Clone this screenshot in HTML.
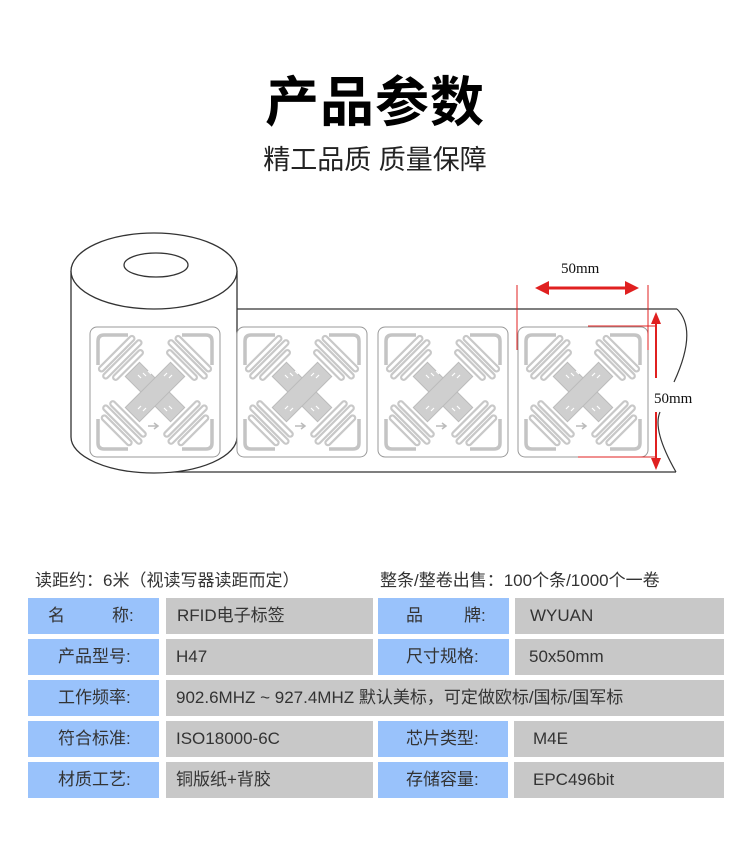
<!DOCTYPE html>
<html><head><meta charset="utf-8"><style>
body{margin:0;width:750px;height:847px;background:#fff;position:relative;overflow:hidden;font-family:"Liberation Sans","Noto Sans CJK SC",sans-serif;color:#333}
.t{position:absolute;white-space:nowrap}
.c{position:absolute;height:36px;line-height:36px;font-size:17px;color:#333;white-space:nowrap}
.b{background:#99c2fb}
.g{background:#c8c8c8}
</style></head><body>
<div class="t" style="left:0;width:750px;text-align:center;top:58px;font-size:54px;font-weight:bold;color:#000;letter-spacing:1px">产品参数</div>
<div class="t" style="left:0;width:750px;text-align:center;top:138px;font-size:27px;color:#222">精工品质 质量保障</div>

<svg width="750" height="847" style="position:absolute;left:0;top:0" xmlns="http://www.w3.org/2000/svg">
<defs>
<g id="lab">
<rect x="0" y="0" width="130" height="130" rx="7" fill="#fff" stroke="#999" stroke-width="1"/>
<g fill="none" stroke="#c4c4c4" stroke-width="3.5">
<path d="M8 38 V14 Q8 8 14 8 H38"/><path d="M92 8 H116 Q122 8 122 14 V38"/>
<path d="M122 92 V116 Q122 122 116 122 H92"/><path d="M38 122 H14 Q8 122 8 116 V92"/>
</g>
<g fill="none" stroke="#c8c8c8" stroke-width="2.2">
<g transform="translate(32,32) rotate(-45)"><rect x="-24" y="-10" width="48" height="5" rx="2.5"/><rect x="-26" y="-2" width="52" height="5" rx="2.5"/><rect x="-20" y="6" width="40" height="5" rx="2.5"/></g>
<g transform="translate(98,32) rotate(45)"><rect x="-24" y="-10" width="48" height="5" rx="2.5"/><rect x="-26" y="-2" width="52" height="5" rx="2.5"/><rect x="-20" y="6" width="40" height="5" rx="2.5"/></g>
<g transform="translate(32,98) rotate(45)"><rect x="-24" y="-11" width="48" height="5" rx="2.5"/><rect x="-26" y="-3" width="52" height="5" rx="2.5"/><rect x="-20" y="5" width="40" height="5" rx="2.5"/></g>
<g transform="translate(98,98) rotate(-45)"><rect x="-24" y="-11" width="48" height="5" rx="2.5"/><rect x="-26" y="-3" width="52" height="5" rx="2.5"/><rect x="-20" y="5" width="40" height="5" rx="2.5"/></g>
</g>
<g fill="#cfcfcf" stroke="#bbb" stroke-width="1">
<rect x="33" y="55" width="64" height="20" transform="rotate(45 65 65)"/>
<rect x="33" y="55" width="64" height="20" transform="rotate(-45 65 65)"/>
</g>
<g fill="none" stroke="#fff" stroke-width="1.2">
<path d="M48 48 l3 3 m2-5 l3 3 m2-5 l3 3 M82 48 l-3 3 m-2-5 l-3 3 M48 82 l3-3 m2 5 l3-3 M82 82 l-3-3 m-2 5 l-3-3"/>
</g>
<path d="M58 99 H67 M64 96 L68 99 L64 102" stroke="#bbb" stroke-width="1.5" fill="none"/>
</g>
</defs>
<line x1="160" y1="309" x2="677" y2="309" stroke="#333" stroke-width="1.2"/>
<line x1="160" y1="472" x2="676" y2="472" stroke="#333" stroke-width="1.2"/>
<path d="M677 309 Q698 330 674 382" stroke="#333" fill="none" stroke-width="1.2"/>
<path d="M660 412 Q652 430 676 472" stroke="#333" fill="none" stroke-width="1.2"/>
<path d="M71 271 V437 A83 36 0 0 0 237 437 V271" fill="#fff" stroke="#333" stroke-width="1.3"/>
<ellipse cx="154" cy="271" rx="83" ry="38" fill="#fff" stroke="#333" stroke-width="1.3"/>
<ellipse cx="156" cy="265" rx="32" ry="12" fill="#fff" stroke="#333" stroke-width="1.3"/>
<use href="#lab" x="90" y="327"/>
<use href="#lab" x="237" y="327"/>
<use href="#lab" x="378" y="327"/>
<use href="#lab" x="518" y="327"/>
<g stroke="#e02020" stroke-width="1">
<line x1="517" y1="285" x2="517" y2="350"/><line x1="648" y1="285" x2="648" y2="350"/>
<line x1="588" y1="326" x2="656" y2="326"/><line x1="578" y1="457" x2="656" y2="457"/>
</g>
<line x1="545" y1="288" x2="628" y2="288" stroke="#e02020" stroke-width="3"/>
<polygon points="535,288 549,281 549,295" fill="#e02020"/><polygon points="639,288 625,281 625,295" fill="#e02020"/>
<line x1="656" y1="320" x2="656" y2="378" stroke="#e02020" stroke-width="2"/>
<line x1="656" y1="412" x2="656" y2="462" stroke="#e02020" stroke-width="2"/>
<polygon points="656,312 651,324 661,324" fill="#e02020"/><polygon points="656,470 651,458 661,458" fill="#e02020"/>
<text x="561" y="273" font-family="Liberation Serif" font-size="15" fill="#111">50mm</text>
<text x="654" y="403" font-family="Liberation Serif" font-size="15" fill="#111">50mm</text>
</svg>

<div class="t" style="left:35px;top:566px;font-size:17px;color:#333">读距约：6米（视读写器读距而定）</div>
<div class="t" style="left:380px;top:566px;font-size:17px;color:#333">整条/整卷出售：100个条/1000个一卷</div>

<div class="c b" style="left:28px;top:598px;width:131px"><span style="position:absolute;left:20px">名</span><span style="position:absolute;left:84px">称:</span></div>
<div class="c g" style="left:166px;top:598px;width:207px;padding-left:11px;box-sizing:border-box">RFID电子标签</div>
<div class="c b" style="left:378px;top:598px;width:131px"><span style="position:absolute;left:28px">品</span><span style="position:absolute;left:86px">牌:</span></div>
<div class="c g" style="left:515px;top:598px;width:209px;padding-left:15px;box-sizing:border-box">WYUAN</div>

<div class="c b" style="left:28px;top:639px;width:131px;padding-left:30px;box-sizing:border-box">产品型号:</div>
<div class="c g" style="left:166px;top:639px;width:207px;padding-left:10px;box-sizing:border-box">H47</div>
<div class="c b" style="left:378px;top:639px;width:131px;padding-left:28px;box-sizing:border-box">尺寸规格:</div>
<div class="c g" style="left:515px;top:639px;width:209px;padding-left:14px;box-sizing:border-box">50x50mm</div>

<div class="c b" style="left:28px;top:680px;width:131px;padding-left:30px;box-sizing:border-box">工作频率:</div>
<div class="c g" style="left:166px;top:680px;width:558px;padding-left:10px;box-sizing:border-box">902.6MHZ ~ 927.4MHZ 默认美标，可定做欧标/国标/国军标</div>

<div class="c b" style="left:28px;top:721px;width:131px;padding-left:30px;box-sizing:border-box">符合标准:</div>
<div class="c g" style="left:166px;top:721px;width:207px;padding-left:10px;box-sizing:border-box">ISO18000-6C</div>
<div class="c b" style="left:378px;top:721px;width:130px;padding-left:28px;box-sizing:border-box">芯片类型:</div>
<div class="c g" style="left:514px;top:721px;width:210px;padding-left:19px;box-sizing:border-box">M4E</div>

<div class="c b" style="left:28px;top:762px;width:131px;padding-left:30px;box-sizing:border-box">材质工艺:</div>
<div class="c g" style="left:166px;top:762px;width:207px;padding-left:10px;box-sizing:border-box">铜版纸+背胶</div>
<div class="c b" style="left:378px;top:762px;width:130px;padding-left:28px;box-sizing:border-box">存储容量:</div>
<div class="c g" style="left:514px;top:762px;width:210px;padding-left:19px;box-sizing:border-box">EPC496bit</div>
</body></html>
